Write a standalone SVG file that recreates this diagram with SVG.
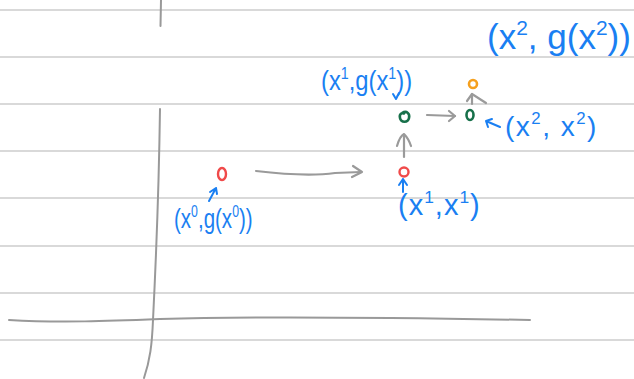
<svg xmlns="http://www.w3.org/2000/svg" width="634" height="379" viewBox="0 0 634 379">
  <style>
    .rule { stroke: #d9d9d9; stroke-width: 2; fill: none; }
    .axis { stroke: #999999; stroke-width: 2; fill: none; stroke-linecap: round; }
    .conn { stroke: #9a9a9a; stroke-width: 2.2; fill: none; stroke-linecap: round; stroke-linejoin: round; }
    .pointer { stroke: #1a7ff2; stroke-width: 2; fill: none; stroke-linecap: round; stroke-linejoin: round; }
    .lbl { font-family: "Liberation Sans", "DejaVu Sans", sans-serif; fill: #1a7ff2; }
    .sup { font-size: 0.6em; }
    .red { stroke: #f04a4a; stroke-width: 2.4; fill: none; }
    .green { stroke: #17704a; stroke-width: 2.6; fill: none; }
    .orange { stroke: #f5a01e; stroke-width: 2.6; fill: none; }
  </style>

  <rect width="634" height="379" fill="#ffffff"/>

  <!-- ruled paper -->
  <g id="paper">
    <line class="rule" x1="0" y1="10" x2="634" y2="10"/>
    <line class="rule" x1="0" y1="57" x2="634" y2="57"/>
    <line class="rule" x1="0" y1="104" x2="634" y2="104"/>
    <line class="rule" x1="0" y1="151" x2="634" y2="151"/>
    <line class="rule" x1="0" y1="198" x2="634" y2="198"/>
    <line class="rule" x1="0" y1="246" x2="634" y2="246"/>
    <line class="rule" x1="0" y1="293" x2="634" y2="293"/>
    <line class="rule" x1="0" y1="340" x2="634" y2="340"/>
  </g>

  <!-- axes -->
  <g id="axes">
    <path class="axis" d="M161 0 L160.5 26"/>
    <path class="axis" d="M160 109 C159 180 156 260 153 320 C152 345 150 360 144 378"/>
    <path class="axis" d="M9 320 C60 323 110 321 160 319 C260 316 420 318 530 320"/>
  </g>

  <!-- connectors -->
  <g id="connectors">
    <path class="conn" d="M256 171 C290 175 320 175 335 173 L361 172"/>
    <path class="conn" d="M353 166 L362 172 L352 177"/>
    <path class="conn" d="M404 157 L404 136"/>
    <path class="conn" d="M397 146 C399 139 402 135 404 134 C406 136 409 140 411 146"/>
    <path class="conn" d="M427 115 L455 116"/>
    <path class="conn" d="M449 111 L455 116 L449 121"/>
    <path class="conn" d="M472 104 L472 94"/>
    <path class="conn" d="M467 101 L472 94 L486 103"/>
  </g>

  <!-- x0 -->
  <g id="node-x0">
    <ellipse class="red" cx="222" cy="174" rx="4" ry="6"/>
    <path class="pointer" d="M209 201 L216 188 M210 192 L216 188 L217 194"/>
    <text class="lbl" font-size="27" transform="translate(174 228) scale(0.76 1)">(x<tspan class="sup" dy="-11">0</tspan><tspan dy="11">,g(x</tspan><tspan class="sup" dy="-11">0</tspan><tspan dy="11">))</tspan></text>
  </g>

  <!-- x1 after first step -->
  <g id="node-x1">
    <ellipse class="red" cx="404" cy="172" rx="4.5" ry="4.5"/>
    <path class="pointer" d="M403 192 L403 179 M399 185 L403 179 L407 185"/>
    <text class="lbl" x="398" y="215" font-size="29" letter-spacing="1">(x<tspan class="sup" dy="-12">1</tspan><tspan dy="12">,x</tspan><tspan class="sup" dy="-12">1</tspan><tspan dy="12">)</tspan></text>
  </g>

  <!-- g(x1) -->
  <g id="node-gx1">
    <path class="green" d="M402 113 C407 110 410 114 409 118 C408 123 401 123 400 118 C399 114 402 112 405 114"/>
    <path class="pointer" d="M393 94 L396 99 L399 93"/>
    <text class="lbl" font-size="27" transform="translate(321 90) scale(0.88 1)">(x<tspan class="sup" dy="-11">1</tspan><tspan dy="11">,g(x</tspan><tspan class="sup" dy="-11">1</tspan><tspan dy="11">))</tspan></text>
  </g>

  <!-- x2 -->
  <g id="node-x2">
    <ellipse class="green" cx="470" cy="115" rx="3.5" ry="5"/>
    <path class="pointer" d="M500 127 L486 121 M488 127 L486 121 L492 119"/>
    <text class="lbl" x="505" y="136" font-size="28" letter-spacing="1.5">(x<tspan class="sup" dy="-12">2</tspan><tspan dy="12">, x</tspan><tspan class="sup" dy="-12">2</tspan><tspan dy="12">)</tspan></text>
  </g>

  <!-- g(x2) -->
  <g id="node-gx2">
    <ellipse class="orange" cx="473" cy="84" rx="4" ry="4"/>
    <text class="lbl" x="487" y="49" font-size="35">(x<tspan class="sup" dy="-14">2</tspan><tspan dy="14">, g(x</tspan><tspan class="sup" dy="-14">2</tspan><tspan dy="14">))</tspan></text>
  </g>
</svg>
